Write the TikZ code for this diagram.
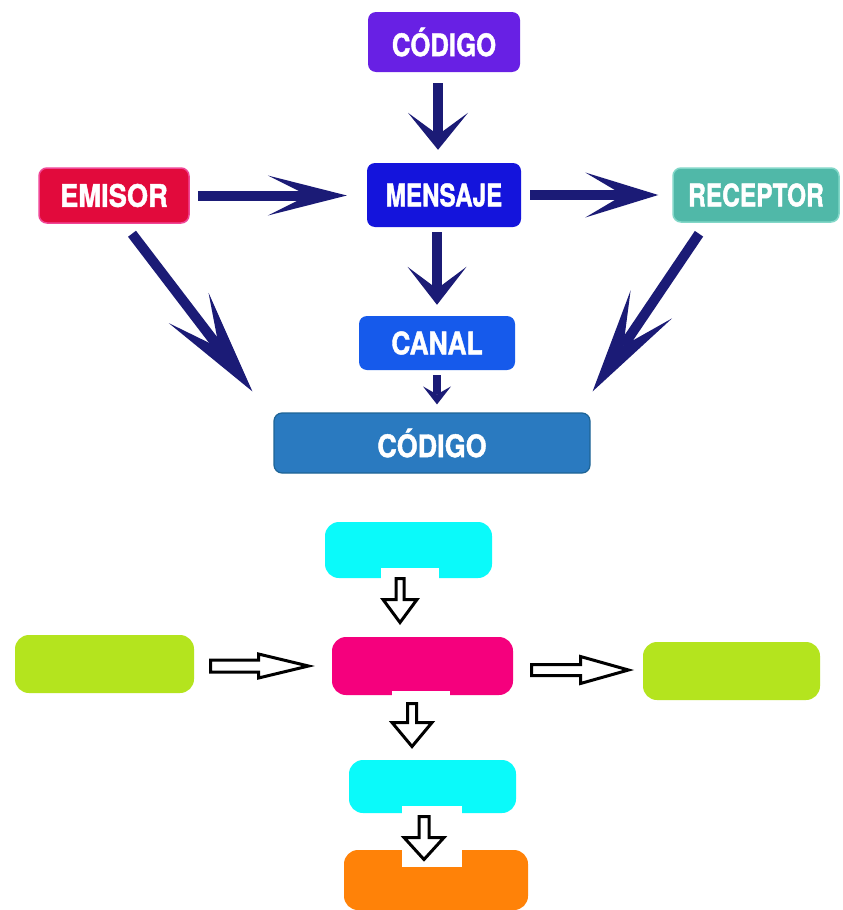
\documentclass[tikz,border=0pt]{standalone}
\usepackage{fontspec}
\usepackage{graphicx}
\newfontfamily\labfont[FakeBold=1.5]{TeX Gyre Heros}
\usetikzlibrary{arrows.meta,calc}
\definecolor{navy}{RGB}{27,27,118}
\definecolor{codA}{RGB}{104,32,228}
\definecolor{emisorc}{RGB}{226,10,60}
\definecolor{emisorb}{RGB}{240,70,150}
\definecolor{mensajec}{RGB}{20,20,220}
\definecolor{receptorc}{RGB}{80,184,168}
\definecolor{receptorb}{RGB}{130,215,200}
\definecolor{canalc}{RGB}{22,90,235}
\definecolor{codB}{RGB}{42,122,192}
\definecolor{codBb}{RGB}{30,100,150}
\definecolor{cyanc}{RGB}{10,250,250}
\definecolor{greenc}{RGB}{180,228,30}
\definecolor{pinkc}{RGB}{245,0,125}
\definecolor{orangec}{RGB}{255,130,8}
\newcommand\lab[2]{\scalebox{#1}[1]{#2}}
\newcommand\hollowarrow[8]{% name, x, y, angle, L, s, hw, hl
  \begin{scope}[shift={(#2,#3)}, rotate=#4]
    \coordinate (#1) at (0,0);
    \draw[hollowline] (0,{-#6/2}) -- ({#5-#8},{-#6/2}) -- ({#5-#8},{-#7/2}) -- (#5,0)
      -- ({#5-#8},{#7/2}) -- ({#5-#8},{#6/2}) -- (0,{#6/2}) -- cycle;
  \end{scope}}
\begin{document}
\begin{tikzpicture}[x=1pt,y=-1pt,
  box/.style={rounded corners=8pt, inner sep=0pt, text=white,
    font=\labfont\bfseries\fontsize{31}{31}\selectfont},
  plainbox/.style={rounded corners=14pt, inner sep=0pt},
  notch/.style={fill=white, draw=none},
  navyline/.style={draw=navy, line width=10pt, line join=miter},
  hollowline/.style={draw=black, fill=white, line width=3pt, line join=miter}]
\fill[white] (0,0) rectangle (843,910);
\useasboundingbox (0,0) rectangle (843,910);

% ---------- top diagram ----------
\node[box, fill=codA, minimum width=152pt, minimum height=60pt] (cod1) at (444,42) {\lab{0.83}{CÓDIGO}};
\node[box, fill=emisorc, draw=emisorb, line width=1.5pt, minimum width=150pt, minimum height=55pt] (emisor) at (114,195.5) {\lab{0.88}{EMISOR}};
\node[box, fill=mensajec, minimum width=154pt, minimum height=64pt] (mensaje) at (444,195) {\lab{0.78}{MENSAJE}};
\node[box, fill=receptorc, draw=receptorb, line width=1.5pt, minimum width=166pt, minimum height=54pt] (receptor) at (756,195) {\lab{0.79}{RECEPTOR}};
\node[box, fill=canalc, minimum width=156pt, minimum height=54pt] (canal) at (437,343) {\lab{0.85}{CANAL}};
\node[box, fill=codB, draw=codBb, line width=1.2pt, minimum width=316pt, minimum height=60pt] (cod2) at (432,443) {\lab{0.87}{CÓDIGO}};

\draw[navyline, -{Stealth[length=37pt,width=60pt,inset=22pt,line width=0pt]}, shorten <=11pt, shorten >=13pt]
  ([xshift=-6pt]cod1.south) -- ([xshift=-6pt]mensaje.north);
\draw[navyline, -{Stealth[length=38pt,width=59pt,inset=22pt,line width=0pt]}, shorten <=5pt, shorten >=11pt]
  (mensaje.south -| canal.north) -- (canal.north);
\draw[navyline, line width=8pt, -{Stealth[length=18pt,width=28pt,inset=8pt,line width=0pt]}, shorten <=5pt, shorten >=8pt]
  (canal.south) -- (canal.south |- cod2.north);
\draw[navyline, -{Stealth[length=79pt,width=40pt,inset=40pt,line width=0pt]}, shorten <=8pt, shorten >=20pt]
  (emisor.east) -- (emisor.east -| mensaje.west);
\draw[navyline, -{Stealth[length=73pt,width=45pt,inset=38pt,line width=0pt]}, shorten <=9pt, shorten >=14pt]
  (mensaje.east) -- (mensaje.east -| receptor.west);
\coordinate (ed0) at ($(emisor.south)+(18,10)$);
\coordinate (ed1) at ($(cod2.north west)+(-21,-21)$);
\coordinate (rd0) at ($(receptor.south)+(-57,11)$);
\coordinate (rd1) at ($(cod2.north east)+(2,-21)$);
\draw[navyline, -{Stealth[length=105pt,width=50pt,inset=50pt,line width=0pt]}] (ed0) -- (ed1);
\draw[navyline, -{Stealth[length=105pt,width=50pt,inset=50pt,line width=0pt]}] (rd0) -- (rd1);

% ---------- bottom diagram ----------
\node[plainbox, fill=cyanc, minimum width=167pt, minimum height=56pt] (c1) at (408.5,550) {};
\fill[notch] (381,568) rectangle (439,579);
\node[plainbox, fill=greenc, minimum width=179pt, minimum height=58pt] (gl) at (104.5,664) {};
\node[plainbox, fill=pinkc, minimum width=181pt, minimum height=58pt] (pk) at (422.5,666) {};
\fill[notch] (392,691) rectangle (450,696);
\node[plainbox, fill=greenc, minimum width=177pt, minimum height=58pt] (gr) at (731.5,671) {};
\node[plainbox, fill=cyanc, minimum width=167pt, minimum height=53pt] (c2) at (432.5,786.5) {};
\fill[notch] (402,806) rectangle (462,814);
\node[plainbox, fill=orangec, minimum width=184pt, minimum height=60pt] (or) at (436,880) {};
\fill[notch] (402,849) rectangle (462,867);

\hollowarrow{h1}{400}{578.5}{-90}{44}{8}{34}{23}
\hollowarrow{h2}{210.5}{666}{0}{98}{12}{24}{50}
\hollowarrow{h3}{531.5}{670}{0}{97}{11}{27}{48}
\hollowarrow{h4}{412}{703.5}{-90}{43}{9}{40}{24}
\hollowarrow{h5}{424}{816.5}{-90}{43}{10}{40}{22}
\end{tikzpicture}
\end{document}
